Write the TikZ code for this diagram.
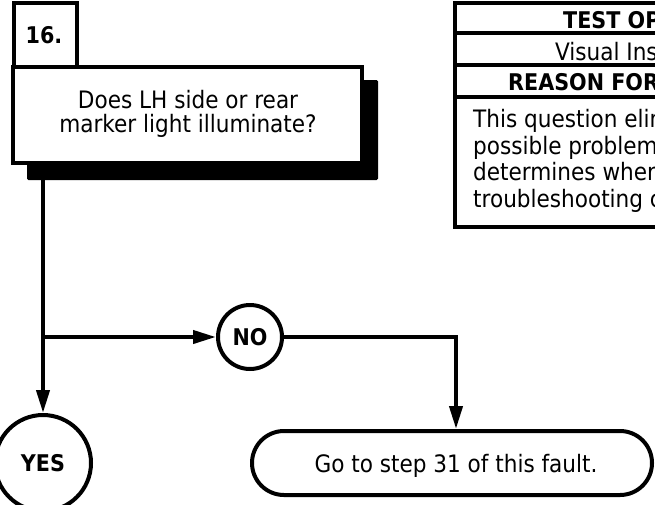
\documentclass[tikz,border=0pt]{standalone}
\usepackage{fontspec}
\setmainfont{DejaVu Sans Condensed}
\usetikzlibrary{arrows.meta}
\begin{document}
\begin{tikzpicture}[x=1pt,y=-1pt,
  thick line/.style={line width=4pt},
  txt/.style={font=\fontsize{24}{24}\selectfont, inner sep=0pt},
  bold txt/.style={font=\fontsize{23}{24}\selectfont\bfseries, inner sep=0pt},
  tip/.style={-{Triangle[length=23pt,width=13pt]}},
  conn/.style={line width=4pt}]
\useasboundingbox (0,0) rectangle (655,504);
\clip (0,0) rectangle (655,504);
% step number box
\draw[thick line] (14,67) -- (14,3) -- (77,3) -- (77,67);
\node[bold txt, anchor=base] (num) at (44,43) {16.};
% shadow
\fill[rounded corners=1.5pt] (27,80) rectangle (378,180);
% main box
\draw[thick line, fill=white] (13,67) rectangle (362,163);
\node[txt, anchor=base] (q1) at (188,108) {Does LH side or rear};
\node[txt, anchor=base] (q2) at (188,132) {marker light illuminate?};
\coordinate (qout) at (43,180);
% table
\draw[thick line] (455,3) rectangle (720,227);
\draw[thick line] (455,33) -- (720,33);
\draw[thick line] (455,65) -- (720,65);
\draw[thick line] (455,97) -- (720,97);
\node[bold txt, anchor=base west] (t1) at (563,28) {TEST OP};
\node[txt, anchor=base west] (t2) at (555,60) {Visual Ins};
\node[bold txt, anchor=base west] (t3) at (508,90) {REASON FOR};
\node[txt, anchor=base west] (t4) at (473,127) {This question elim};
\node[txt, anchor=base west] (t5) at (473,154) {possible problem};
\node[txt, anchor=base west] (t6) at (473,180) {determines wher};
\node[txt, anchor=base west] (t7) at (473,207) {troubleshooting c};
% circles
\node[draw, circle, thick line, minimum size=96pt, bold txt] (yes) at (43,463) {YES};
\node[draw, circle, thick line, minimum size=64pt, bold txt] (no) at (250,337) {NO};
% go to box
\node[draw, thick line, rounded corners=32pt, minimum width=400pt, minimum height=64pt] (go) at (452,463) {};
\node[txt, anchor=base] (gotxt) at (456,472) {Go to step 31 of this fault.};
% connectors
\coordinate (j) at (43,337);
\draw[conn, tip] (qout) -- (yes.north);
\draw[conn, tip] (j) -- (no.west);
\draw[conn, tip] (no.east) -| (go.north -| 456,0);
\end{tikzpicture}
\end{document}
